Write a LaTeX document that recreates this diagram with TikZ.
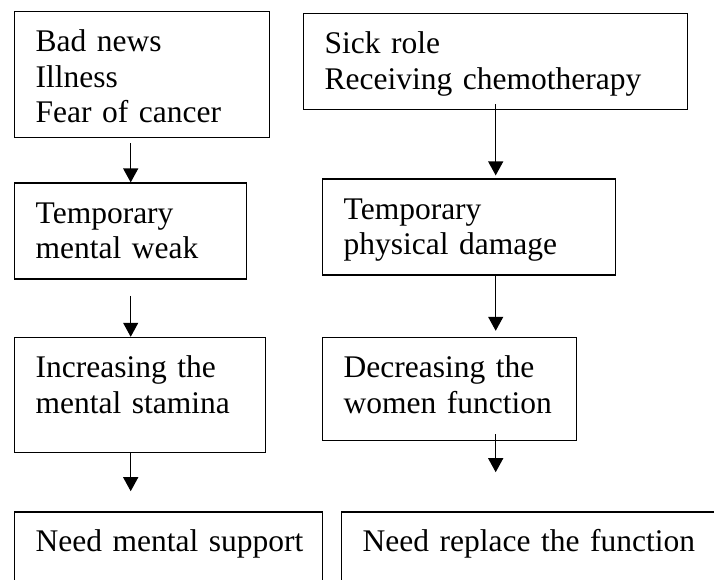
\documentclass[tikz,border=0pt]{standalone}
\usepackage{fontspec}
\setmainfont{Liberation Serif}
\usetikzlibrary{arrows.meta,positioning}

\begin{document}
\begin{tikzpicture}[x=1pt,y=-1pt,
 box/.style={draw,line width=1.4pt,font=\fontsize{31.5}{35.5}\selectfont,align=left,inner xsep=21pt,inner ysep=18pt,text height=22pt,anchor=north west},
 arr/.style={-{Triangle[length=14pt,width=15pt]},line width=1.2pt}]
\useasboundingbox (0,0) rectangle (714,579);
\clip (0,0) rectangle (714,579);
% left column
\node[box,text width=213pt,text depth=68pt] (bad) at (14,11) {Bad news\\Illness\\Fear of cancer};
\node[box,text width=190pt,text depth=38pt,below=44pt of bad.south west,anchor=north west] (weak) {Temporary\\mental weak};
\node[box,text width=209pt,text depth=57pt,below=57pt of weak.south west,anchor=north west] (stamina) {Increasing the\\mental stamina};
\node[box,text width=266pt,text depth=52pt,below=58pt of stamina.south west,anchor=north west] (support) {\mbox{Need mental support}};
% right column
\node[box,text width=342pt,text depth=38pt] (sick) at (303,13) {Sick role\\Receiving chemotherapy};
\node[box,text width=251pt,text depth=38pt,below=68pt of sick.south west,anchor=north west,xshift=19pt] (damage) {Temporary\\physical damage};
\node[box,text width=212pt,text depth=45pt,below=61pt of damage.south west,anchor=north west] (women) {Decreasing the\\women function};
\node[box,text width=358pt,text depth=52pt,below=70pt of women.south west,anchor=north west,xshift=19pt] (replace) {\mbox{Need replace the function}};
% arrows
\draw[arr] ([yshift=-5pt]bad.south -| weak.north) -- (weak.north);
\draw[arr] ([yshift=-16pt]weak.south) -- (stamina.north -| weak.south);
\draw[arr] (stamina.south -| weak.south) -- ([yshift=20pt]support.north -| weak.south);
\draw[arr] ([yshift=6pt]sick.south) -- ([yshift=3pt]damage.north -| sick.south);
\draw[arr] (damage.south -| sick.south) -- ([yshift=6pt]women.north -| sick.south);
\draw[arr] ([yshift=7pt]women.south -| sick.south) -- ([yshift=39pt]replace.north -| sick.south);
\end{tikzpicture}
\end{document}
